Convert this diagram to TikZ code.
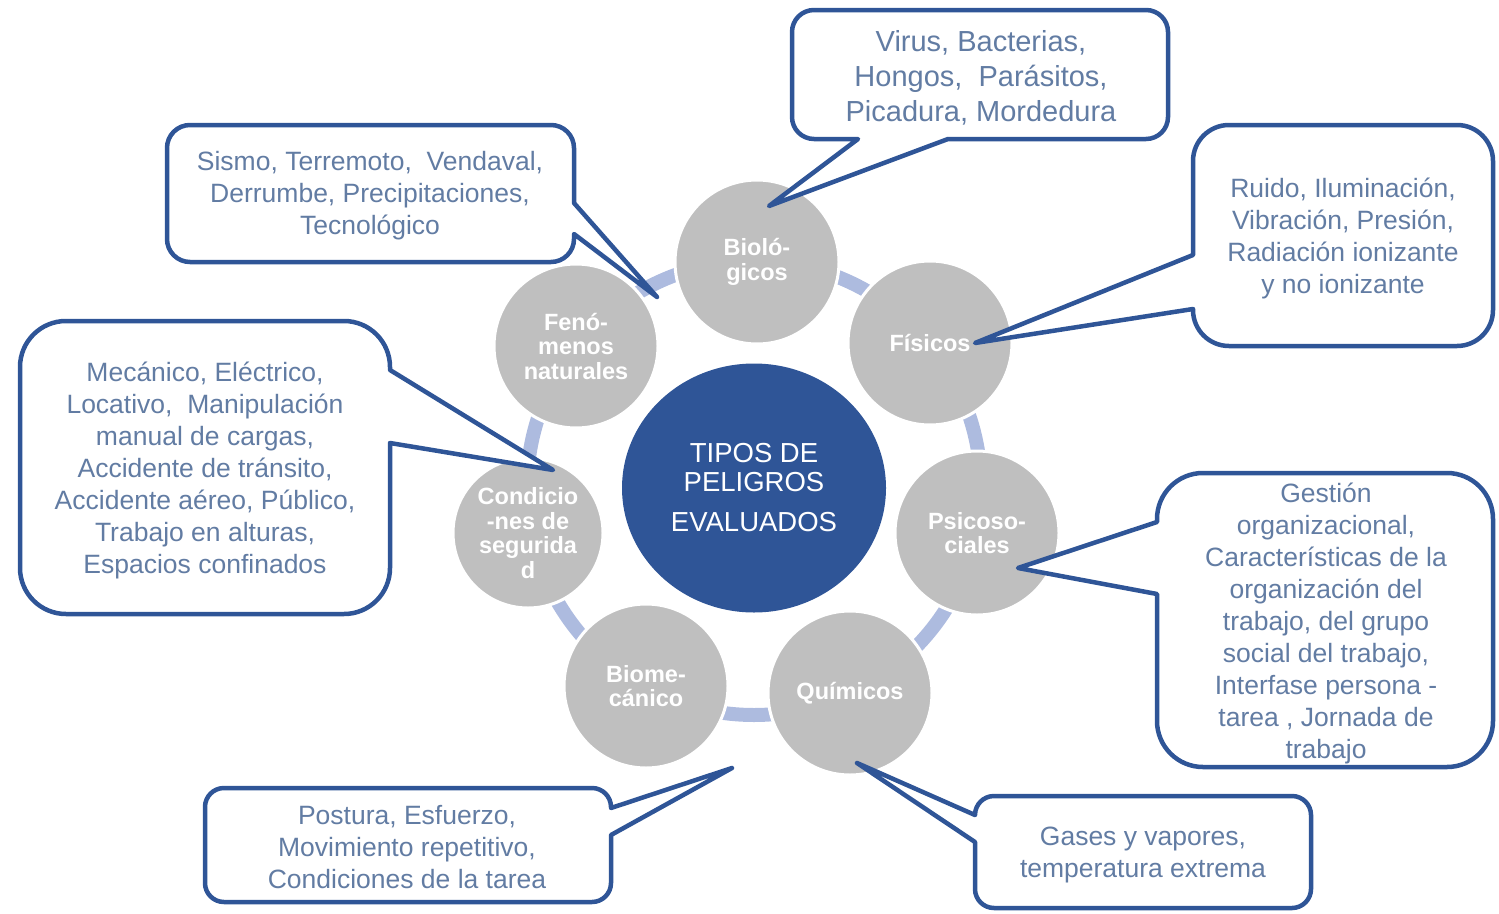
\documentclass[tikz,border=0pt]{standalone}
\usepackage{fontspec}
\setmainfont{Liberation Sans}
\usetikzlibrary{shapes.geometric}
\definecolor{dblue}{RGB}{47,85,151}
\definecolor{tblue}{RGB}{98,124,163}
\definecolor{barblue}{RGB}{173,187,223}
\definecolor{satgray}{RGB}{191,191,191}
\tikzset{
  callout/.style={draw=dblue, fill=white, line width=4.5pt, line join=round},
  ctext/.style={text=tblue, align=center, inner sep=0pt, font=\fontsize{26.5}{32}\selectfont},
  sat/.style={circle, fill=satgray, draw=white, line width=3pt, inner sep=0pt, minimum size=164pt,
    text=white, align=center, font=\bfseries\fontsize{23.5}{24.5}\selectfont},
  bar/.style={draw=barblue, line width=14pt},
}
% pointer on right edge: x0 y0 x1 y1 r ya yb tip
\newcommand\calloutR[8]{%
 \draw[callout] (#3,#6) -- (#8) -- (#3,#7) -- (#3,{#4-#5}) arc[start angle=0,end angle=90,radius=#5] -- ({#1+#5},#4) arc[start angle=90,end angle=180,radius=#5] -- (#1,{#2+#5}) arc[start angle=180,end angle=270,radius=#5] -- ({#3-#5},#2) arc[start angle=270,end angle=360,radius=#5] -- cycle;}
% pointer on left edge
\newcommand\calloutL[8]{%
 \draw[callout] (#1,#7) -- (#8) -- (#1,#6) -- (#1,{#2+#5}) arc[start angle=180,end angle=270,radius=#5] -- ({#3-#5},#2) arc[start angle=270,end angle=360,radius=#5] -- (#3,{#4-#5}) arc[start angle=0,end angle=90,radius=#5] -- ({#1+#5},#4) arc[start angle=90,end angle=180,radius=#5] -- cycle;}
% pointer on bottom edge: x0 y0 x1 y1 r xa xb tip
\newcommand\calloutB[8]{%
 \draw[callout] (#6,#4) -- (#8) -- (#7,#4) -- ({#3-#5},#4) arc[start angle=90,end angle=0,radius=#5] -- (#3,{#2+#5}) arc[start angle=0,end angle=-90,radius=#5] -- ({#1+#5},#2) arc[start angle=270,end angle=180,radius=#5] -- (#1,{#4-#5}) arc[start angle=180,end angle=90,radius=#5] -- cycle;}
\begin{document}
\begin{tikzpicture}[x=1pt,y=-1pt]
\useasboundingbox (0,0) rectangle (1499,913);
% ring of connector bars
\coordinate (ringc) at (754,488);
\draw[bar] (ringc) circle[radius=227];
% satellites
\node[sat] (bio) at (757,262) {Bioló-\\gicos};
\node[sat] (fis) at (930,343) {Físicos};
\node[sat] (psi) at (977,533) {Psicoso-\\ciales};
\node[sat] (qui) at (850,693) {Químicos};
\node[sat] (bme) at (646,686) {Biome-\\cánico};
\node[sat, minimum size=150pt] (seg) at (528,533) {Condicio\\-nes de\\segurida\\d};
\node[sat] (fen) at (576,346) {Fenó-\\menos\\naturales};
% center
\node[ellipse, fill=dblue, minimum width=264pt, minimum height=249pt, inner sep=0pt,
  text=white, align=center, font=\fontsize{27.5}{29}\selectfont] (cen) at (754,488)
  {TIPOS DE\\PELIGROS\\[11pt]EVALUADOS};
% pointer tips
\coordinate (tbio) at (769,206);
\coordinate (tfen) at (657,297);
\coordinate (tfis) at (975,343);
\coordinate (tseg) at (553,470);
\coordinate (tpsi) at (1018,568);
\coordinate (tbme) at (732,768);
\coordinate (tqui) at (857,763);
% callouts
\calloutB{792}{10}{1168}{139}{22}{858}{948}{tbio}
\calloutR{167}{125}{574}{262}{23}{203}{234}{tfen}
\calloutL{1193}{125}{1493}{346}{36}{255}{309}{tfis}
\calloutR{20}{321}{390}{614}{46}{370}{443}{tseg}
\calloutL{1157}{473}{1493}{767}{46}{522}{594}{tpsi}
\calloutR{205}{788}{611}{902}{19}{808}{835}{tbme}
\calloutL{975}{796}{1311}{908}{19}{815}{842}{tqui}
% callout texts
\node[ctext, font=\fontsize{29}{35}\selectfont] (xbio) at (981,78) {Virus, Bacterias,\\Hongos,\ \ Parásitos,\\Picadura, Mordedura};
\node[ctext] (xfen) at (370,196) {Sismo, Terremoto,\ \ Vendaval,\\Derrumbe, Precipitaciones,\\Tecnológico};
\node[ctext] (xfis) at (1343,238) {Ruido, Iluminación,\\Vibración, Presión,\\Radiación ionizante\\y no ionizante};
\node[ctext] (xseg) at (205,470) {Mecánico, Eléctrico,\\Locativo,\ \ Manipulación\\manual de cargas,\\Accidente de tránsito,\\Accidente aéreo, Público,\\Trabajo en alturas,\\Espacios confinados};
\node[ctext] (xpsi) at (1326,623) {Gestión\\organizacional,\\Características de la\\organización del\\trabajo, del grupo\\social del trabajo,\\Interfase persona -\\tarea , Jornada de\\trabajo};
\node[ctext] (xbme) at (407,847) {Postura, Esfuerzo,\\Movimiento repetitivo,\\Condiciones de la tarea};
\node[ctext] (xqui) at (1143,855) {Gases y vapores,\\temperatura extrema};
\end{tikzpicture}
\end{document}
